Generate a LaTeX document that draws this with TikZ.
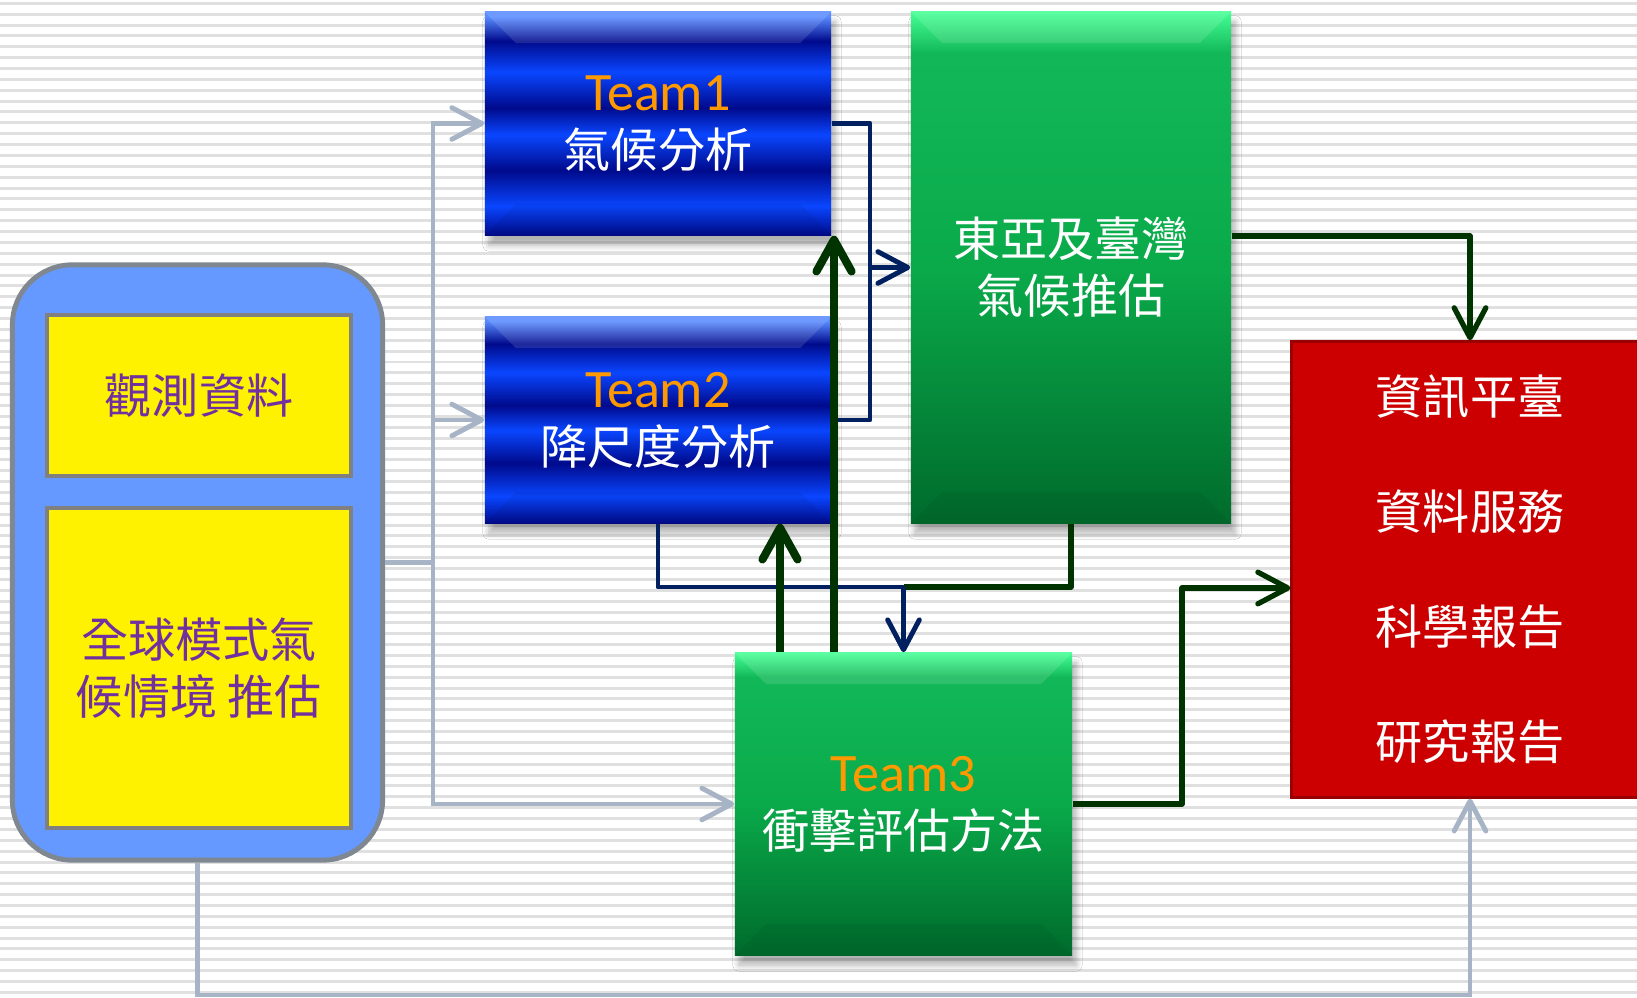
\documentclass[tikz,border=0pt]{standalone}
\usepackage{fontspec}
\usetikzlibrary{arrows.meta,shadows.blur}
\newfontfamily\cjk{Noto Sans CJK TC}
\newfontfamily\teamfont{Carlito}
\definecolor{stripe}{HTML}{E0E0E0}
\definecolor{srcblue}{HTML}{6699FF}
\definecolor{srcgray}{HTML}{7F8790}
\definecolor{boxgray}{HTML}{808080}
\definecolor{txtpurple}{HTML}{7030A0}
\definecolor{teamorange}{HTML}{FF9900}
\definecolor{outred}{HTML}{CC0000}
\definecolor{outedge}{HTML}{9A0000}
\definecolor{glink}{HTML}{A6B4C6}
\definecolor{nlink}{HTML}{002060}
\definecolor{dlink}{HTML}{003300}
\definecolor{bluetop}{HTML}{5A8CFF}
\definecolor{bluedark}{HTML}{000A8C}
\definecolor{bluelight}{HTML}{0A46FF}
\definecolor{greentop}{HTML}{45FF95}
\definecolor{greenbright}{HTML}{12B858}
\definecolor{greenmid}{HTML}{0AAA4A}
\definecolor{greenlow}{HTML}{006B2C}
\pgfdeclareverticalshading{teamblue}{100bp}{color(0bp)=(bluedark); color(25bp)=(bluedark); color(31.5bp)=(bluelight); color(39.5bp)=(bluedark); color(47.5bp)=(bluelight); color(53.5bp)=(bluedark); color(61.5bp)=(bluelight); color(68.5bp)=(bluedark); color(74bp)=(bluetop); color(100bp)=(bluetop)}
\pgfdeclareverticalshading{boxgreen}{100bp}{color(0bp)=(greenlow); color(25bp)=(greenlow); color(50bp)=(greenmid); color(71bp)=(greenbright); color(75bp)=(greentop); color(100bp)=(greentop)}
\begin{document}
\begin{tikzpicture}[x=0.01cm,y=-0.01cm,
		box/.style={inner sep=0pt,align=center,font=\cjk\fontsize{13.4}{16.2}\selectfont},
		boxshadow/.style={blur shadow={shadow xshift=0.4mm,shadow yshift=-1mm,shadow opacity=30,shadow blur steps=6}},
		teambox/.style={box,shading=teamblue,text=white,minimum width=3.46cm,boxshadow},
		greenbox/.style={box,shading=boxgreen,text=white,boxshadow},
		srcbox/.style={fill=srcblue,draw=srcgray,line width=1.4pt,rounded corners=0.6cm,minimum width=3.7cm,minimum height=5.95cm},
		yellowbox/.style={box,fill=yellow,draw=boxgray,line width=1.3pt,text=txtpurple,minimum width=3.04cm},
		outbox/.style={box,font=\cjk\fontsize{13.4}{32.7}\selectfont,fill=outred,draw=outedge,line width=0.85pt,text=white,minimum width=3.56cm,minimum height=4.55cm},
		linkhead/.style={-{Straight Barb[round,length=8.5pt,width=9pt]}},
		gline/.style={draw=glink,line width=1.4pt},
		nline/.style={draw=nlink,line width=1.4pt,line join=round},
		dline/.style={draw=dlink,line width=1.5pt,line join=round},
		upline/.style={draw=dlink,line width=2.3pt,-{Straight Barb[round,length=9pt,width=10pt]}}
	]
	\useasboundingbox (0,0) rectangle (1637,998);
	\clip (0,0) rectangle (1637,998);
	\fill[white] (0,0) rectangle (1637,998);
	\foreach \k in {0,...,91}
		\draw[stripe,line width=0.85pt] (0,3.3+10.87*\k) -- (1637,3.3+10.87*\k);

	\node[srcbox] (src) at (197.5,562.5) {};
	\node[yellowbox,minimum height=1.61cm] (obs) at (199,395.5) {觀測資料};
	\node[yellowbox,minimum height=3.2cm] (gcm) at (199,668) {全球模式氣\\候情境 推估};
	\node[teambox,minimum height=2.23cm] (team1) at (658,123.5) {{\teamfont\fontsize{15.4}{16.2}\selectfont\color{teamorange}Team1}\\氣候分析};
	\node[teambox,minimum height=2.06cm] (team2) at (658,420) {{\teamfont\fontsize{15.4}{16.2}\selectfont\color{teamorange}Team2}\\降尺度分析};
	\node[greenbox,minimum width=3.2cm,minimum height=5.11cm] (asia) at (1071,267.5) {東亞及臺灣\\氣候推估};
	\node[greenbox,minimum width=3.37cm,minimum height=3.02cm] (team3) at (903.5,804) {{\teamfont\fontsize{15.4}{16.2}\selectfont\color{teamorange}Team3}\\衝擊評估方法};
	\node[outbox] (out) at (1470,569.5) {資訊平臺\\資料服務\\科學報告\\研究報告};

	\foreach \b in {team1,team2,asia,team3} {
		\fill[white,opacity=0.12] (\b.north west) -- (\b.north east) -- ++(-32,32) -- ([shift={(32,32)}]\b.north west) -- cycle;
		\fill[black,opacity=0.05] (\b.south west) -- (\b.south east) -- ++(-32,-32) -- ([shift={(32,-32)}]\b.south west) -- cycle;
	}

	\coordinate (split) at (433,562.5);
	\coordinate (floor) at (0,995);
	\draw[gline] (src.east) -- (split);
	\draw[gline,linkhead] (split) |- (team1.west);
	\draw[gline,linkhead] (split) |- (team2.west);
	\draw[gline,linkhead] (split) |- (team3.west);
	\draw[gline,linkhead] (src.south) -- (src.south |- floor) -| (out.south);

	\coordinate (njoin) at (870,267.5);
	\coordinate (meet) at (903.5,587);
	\draw[nline] (team1.east) -| (njoin) |- (team2.east);
	\draw[nline,linkhead] (njoin) -- (asia.west);
	\draw[dline] (asia.south) |- (meet);
	\draw[nline] (team2.south) |- (meet);
	\draw[nline,linkhead] (meet) -- (team3.north);

	\coordinate (up1) at (834,0);
	\coordinate (up2) at (780,0);
	\draw[upline] (team3.north -| up2) -- (team2.south -| up2);
	\draw[upline] (team3.north -| up1) -- (team1.south -| up1);

	\coordinate (outtop) at (1470,236);
	\coordinate (outside) at (1182,588);
	\draw[dline,linkhead] (asia.east |- outtop) -| (out.north);
	\draw[dline,linkhead] (team3.east) -| (outside) -- (out.west |- outside);
\end{tikzpicture}
\end{document}
